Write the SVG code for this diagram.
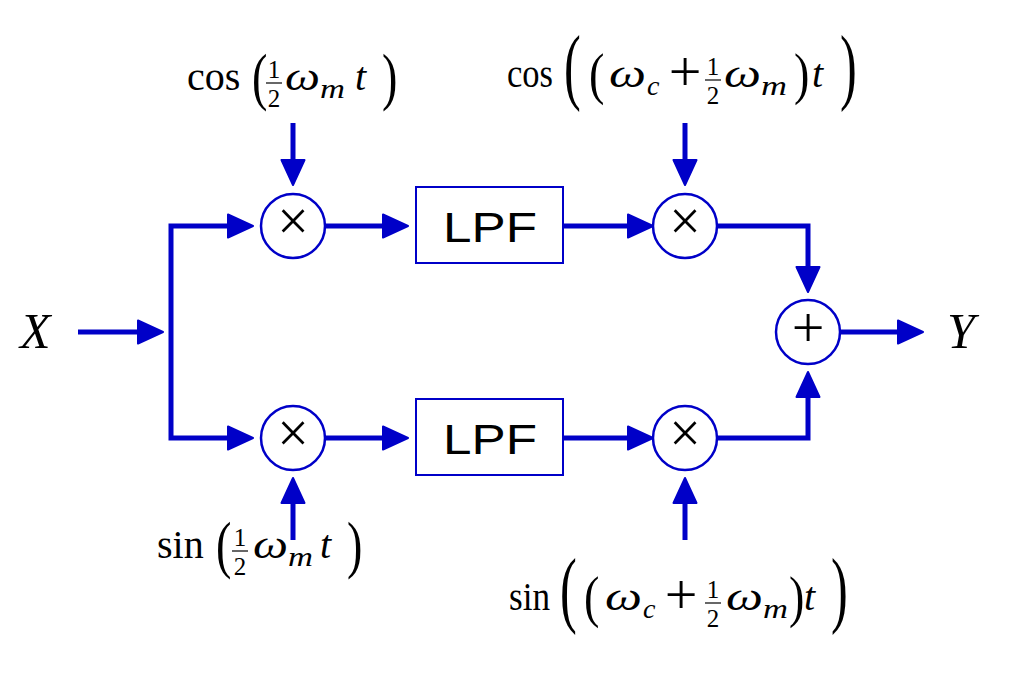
<svg xmlns="http://www.w3.org/2000/svg" width="1010" height="676" viewBox="0 0 1010 676">
<defs>
<marker id="ah" markerUnits="userSpaceOnUse" markerWidth="30" markerHeight="26" refX="0" refY="11.5" orient="auto" overflow="visible">
<path d="M0,0 L25,11.5 L0,23 Z" fill="#0000C8" stroke="#0000C8" stroke-width="2" stroke-linejoin="round"/>
</marker>
</defs>
<style>
.c{fill:none;stroke:#0000C8;stroke-width:5;stroke-linejoin:miter;marker-end:url(#ah)}
.op{fill:#fff;stroke:#0000C8;stroke-width:2.5}
.box{fill:#fff;stroke:#0000C8;stroke-width:2}
.sym{font-family:"Liberation Serif",serif;fill:#000;text-anchor:middle}
.lpf{font-family:"Liberation Sans",Arial,sans-serif;font-size:43px;fill:#000}
.m{font-family:"Liberation Serif","Times New Roman",serif;font-size:40px;fill:#000}
.i{font-style:italic}
.s{font-family:"Liberation Serif",serif;font-size:28px;font-style:italic;fill:#000}
.d{font-family:"Liberation Serif",serif;font-size:25px;fill:#000;text-anchor:middle}
.bar{stroke:#000;stroke-width:1.2}
.p{font-family:"Liberation Serif",serif;font-size:42px;fill:#000}
.xy{font-family:"Liberation Serif",serif;font-size:50px;font-style:italic;fill:#000}
</style>
<rect width="1010" height="676" fill="#fff"/>

<g id="connectors">
<path class="c" d="M78,332 H138"/>
<path class="c" d="M171,332 V226 H228"/>
<path class="c" d="M171,332 V438 H228"/>
<path class="c" d="M293,123 V160"/>
<path class="c" d="M293,540 V503"/>
<path class="c" d="M325,226 H383"/>
<path class="c" d="M325,438 H383"/>
<path class="c" d="M563,226 H628"/>
<path class="c" d="M563,438 H628"/>
<path class="c" d="M685,123 V160"/>
<path class="c" d="M685,540 V503"/>
<path class="c" d="M717,226 H808 V267"/>
<path class="c" d="M717,438 H808 V397"/>
<path class="c" d="M840,332 H898"/>
</g>

<g id="mult1">
<circle class="op" cx="293" cy="226" r="32"/>
<text class="sym" x="293" y="240" font-size="56">×</text>
</g>
<g id="mult2">
<circle class="op" cx="293" cy="438" r="32"/>
<text class="sym" x="293" y="452" font-size="56">×</text>
</g>
<g id="lpf1">
<rect class="box" x="416" y="187" width="147" height="76"/>
<text class="lpf" x="443" y="242" textLength="94" lengthAdjust="spacingAndGlyphs">LPF</text>
</g>
<g id="lpf2">
<rect class="box" x="416" y="399" width="147" height="76"/>
<text class="lpf" x="443" y="454" textLength="94" lengthAdjust="spacingAndGlyphs">LPF</text>
</g>
<g id="mult3">
<circle class="op" cx="685" cy="226" r="32"/>
<text class="sym" x="685" y="240" font-size="56">×</text>
</g>
<g id="mult4">
<circle class="op" cx="685" cy="438" r="32"/>
<text class="sym" x="685" y="452" font-size="56">×</text>
</g>
<g id="sum">
<circle class="op" cx="808" cy="332" r="32"/>
<text class="sym" x="808" y="347" font-size="58">+</text>
</g>

<g id="labelX">
<text class="xy" x="20" y="348">X</text>
</g>
<g id="labelY">
<text class="xy" x="947" y="348">Y</text>
</g>

<!-- label 1: cos(1/2 w_m t), baseline 90 -->
<g id="label-cos1">
<text class="m" x="187" y="90">cos</text>
<text class="p" transform="translate(252,97.9) scale(1.1,1.51)">(</text>
<text class="d" x="274" y="78">1</text>
<line class="bar" x1="266" y1="83" x2="282" y2="83"/>
<text class="d" x="274" y="107">2</text>
<text class="m i" x="285" y="90" textLength="35" lengthAdjust="spacingAndGlyphs">ω</text>
<text class="s" x="320" y="98" textLength="25" lengthAdjust="spacingAndGlyphs">m</text>
<text class="m i" x="355" y="90">t</text>
<text class="p" transform="translate(382,97.9) scale(1.1,1.51)">)</text>
</g>

<!-- label 3: sin(1/2 w_m t), baseline 558 -->
<g id="label-sin1">
<text class="m" x="157" y="558">sin</text>
<text class="p" transform="translate(216,565.9) scale(1.1,1.51)">(</text>
<text class="d" x="240" y="546">1</text>
<line class="bar" x1="232" y1="551" x2="248" y2="551"/>
<text class="d" x="240" y="575">2</text>
<text class="m i" x="253" y="558" textLength="35" lengthAdjust="spacingAndGlyphs">ω</text>
<text class="s" x="288" y="566" textLength="25" lengthAdjust="spacingAndGlyphs">m</text>
<text class="m i" x="320" y="558">t</text>
<text class="p" transform="translate(347,565.9) scale(1.1,1.51)">)</text>
</g>

<!-- label 2: cos((w_c + 1/2 w_m) t), baseline 87 -->
<g id="label-cos2">
<text class="m" x="507" y="87" textLength="46" lengthAdjust="spacingAndGlyphs">cos</text>
<text class="p" transform="translate(564,94.1) scale(1.2,2.01)">(</text>
<text class="p" transform="translate(589,92.9) scale(1.1,1.37)">(</text>
<text class="m i" x="609" y="87" textLength="37" lengthAdjust="spacingAndGlyphs">ω</text>
<text class="s" x="647" y="95">c</text>
<text class="sym" x="685" y="91" font-size="58">+</text>
<text class="d" x="713" y="75">1</text>
<line class="bar" x1="705" y1="80" x2="721" y2="80"/>
<text class="d" x="713" y="104">2</text>
<text class="m i" x="724" y="87" textLength="37" lengthAdjust="spacingAndGlyphs">ω</text>
<text class="s" x="761" y="95" textLength="26" lengthAdjust="spacingAndGlyphs">m</text>
<text class="p" transform="translate(794,92.9) scale(1.1,1.37)">)</text>
<text class="m i" x="812" y="87">t</text>
<text class="p" transform="translate(840,94.1) scale(1.2,2.01)">)</text>
</g>

<!-- label 4: sin((w_c + 1/2 w_m) t), baseline 610 -->
<g id="label-sin2">
<text class="m" x="509" y="610" textLength="41" lengthAdjust="spacingAndGlyphs">sin</text>
<text class="p" transform="translate(560,617.1) scale(1.2,2.01)">(</text>
<text class="p" transform="translate(584,615.9) scale(1.1,1.37)">(</text>
<text class="m i" x="605" y="610" textLength="37" lengthAdjust="spacingAndGlyphs">ω</text>
<text class="s" x="643" y="618">c</text>
<text class="sym" x="681" y="614" font-size="58">+</text>
<text class="d" x="713" y="598">1</text>
<line class="bar" x1="705" y1="603" x2="721" y2="603"/>
<text class="d" x="713" y="627">2</text>
<text class="m i" x="726" y="610" textLength="37" lengthAdjust="spacingAndGlyphs">ω</text>
<text class="s" x="763" y="618" textLength="25" lengthAdjust="spacingAndGlyphs">m</text>
<text class="p" transform="translate(789,615.9) scale(1.1,1.37)">)</text>
<text class="m i" x="804" y="610">t</text>
<text class="p" transform="translate(831,617.1) scale(1.2,2.01)">)</text>
</g>
</svg>
